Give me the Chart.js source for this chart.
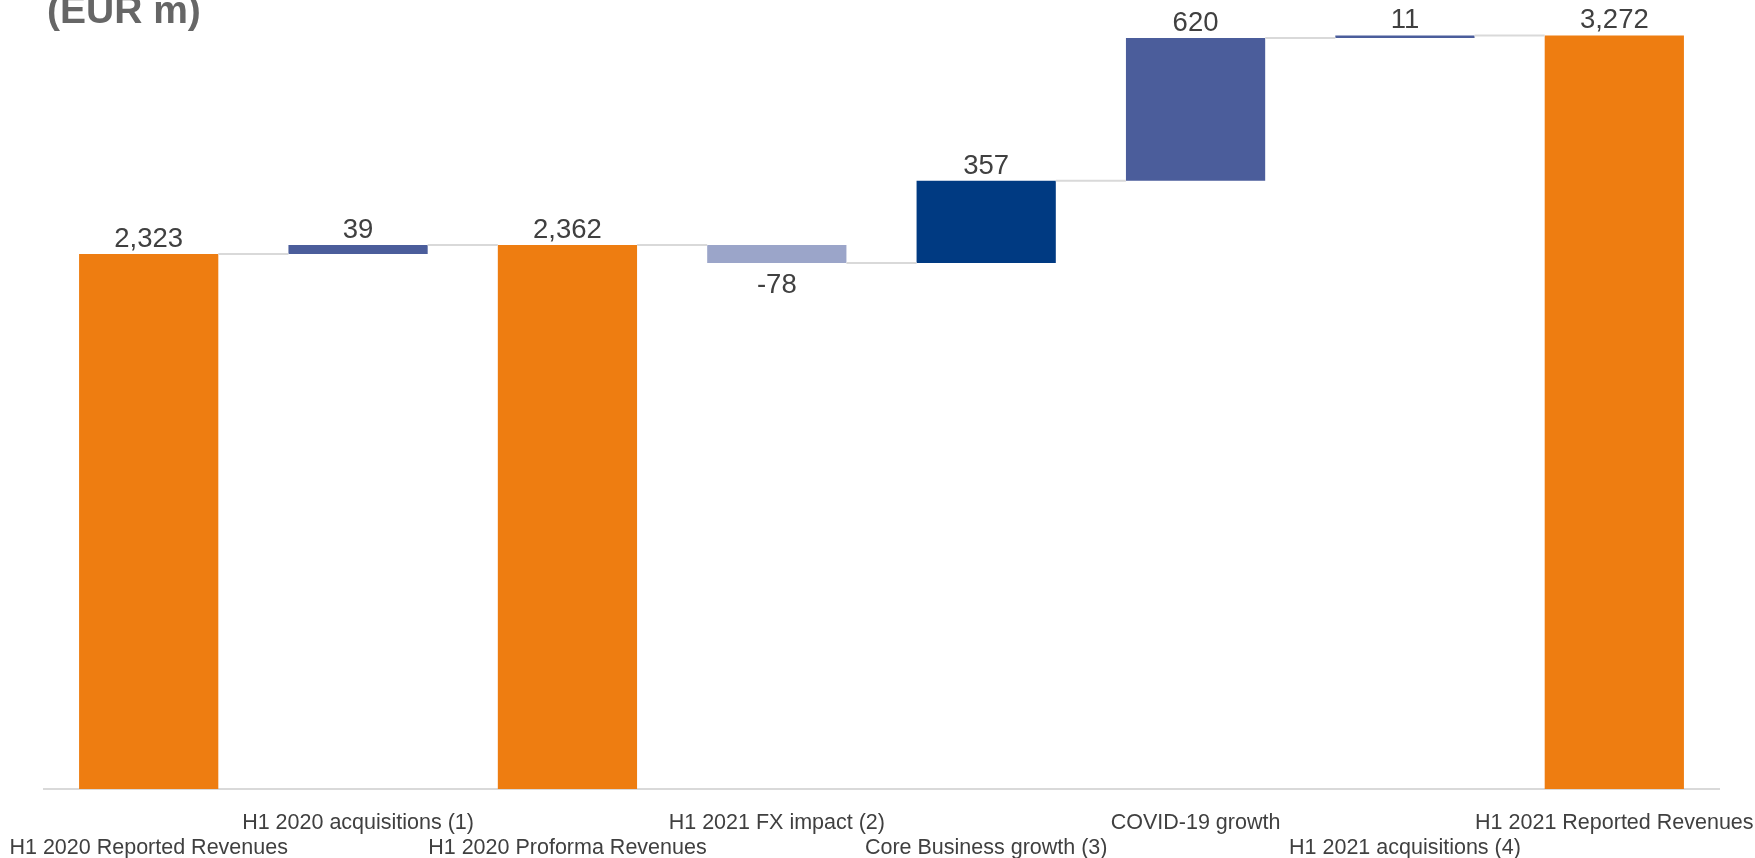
<!DOCTYPE html>
<html>
<head>
<meta charset="utf-8">
<script src="https://cdn.jsdelivr.net/npm/chart.js@4.4.1/dist/chart.umd.min.js"></script>
<style>
  html, body { margin: 0; padding: 0; background: #fff; }
  #wrap { width: 1755px; height: 858px; position: relative; }
</style>
</head>
<body>
<div id="wrap"><canvas id="myChart"></canvas></div>
<script>
const categories = [
    'H1 2020 Reported Revenues',
    'H1 2020 acquisitions (1)',
    'H1 2020 Proforma Revenues',
    'H1 2021 FX impact (2)',
    'Core Business growth (3)',
    'COVID-19 growth',
    'H1 2021 acquisitions (4)',
    'H1 2021 Reported Revenues'
];
const steps = [2323, 39, 2362, -78, 357, 620, 11, 3272];
const isTotal = [true, false, true, false, false, false, false, true];
const barColors = ['#ee7d11', '#4b5d9b', '#ee7d11', '#9ba5c9', '#003a82', '#4b5d9b', '#4b5d9b', '#ee7d11'];

// floating bars: totals start at zero, changes start where the previous bar ended
let running = 0;
const ranges = steps.map((v, i) => {
    if (isTotal[i]) {
        running = v;
        return [0, v];
    }
    const start = running;
    running += v;
    return [start, running];
});

const FONT = '"Liberation Sans", Arial, sans-serif';

const connectors = {
    id: 'connectors',
    afterDatasetsDraw(chart) {
        const ctx = chart.ctx;
        const bars = chart.getDatasetMeta(0).data;
        const y = chart.scales.y;
        ctx.save();
        ctx.strokeStyle = '#d9d9d9';
        ctx.lineWidth = 2;
        for (let i = 0; i < bars.length - 1; i++) {
            const py = y.getPixelForValue(ranges[i][1]);
            ctx.beginPath();
            ctx.moveTo(bars[i].x + bars[i].width / 2, py);
            ctx.lineTo(bars[i + 1].x - bars[i + 1].width / 2, py);
            ctx.stroke();
        }
        ctx.restore();
    }
};

const valueLabels = {
    id: 'valueLabels',
    afterDatasetsDraw(chart) {
        const ctx = chart.ctx;
        const bars = chart.getDatasetMeta(0).data;
        ctx.save();
        ctx.font = '27.5px ' + FONT;
        ctx.fillStyle = '#404040';
        ctx.textAlign = 'center';
        ctx.textBaseline = 'alphabetic';
        bars.forEach((bar, i) => {
            const v = steps[i];
            const text = v.toLocaleString('en-US');
            const top = Math.min(bar.y, bar.base);
            const bottom = Math.max(bar.y, bar.base);
            if (v < 0) {
                ctx.fillText(text, bar.x, bottom + 30);
            } else {
                ctx.fillText(text, bar.x, top - 7);
            }
        });
        ctx.restore();
    }
};

const unitTitle = {
    id: 'unitTitle',
    afterDraw(chart) {
        const ctx = chart.ctx;
        ctx.save();
        ctx.font = 'bold 39px ' + FONT;
        ctx.fillStyle = '#666666';
        ctx.textAlign = 'left';
        ctx.textBaseline = 'alphabetic';
        ctx.fillText('(EUR m)', 47, 23);
        ctx.restore();
    }
};

const ctx = document.getElementById('myChart').getContext('2d');
const chart = new Chart(ctx, {
    type: 'bar',
    data: {
        labels: categories,
        datasets: [{
            data: ranges,
            backgroundColor: barColors,
            borderWidth: 0,
            categoryPercentage: 1,
            barPercentage: 0.665
        }]
    },
    options: {
        responsive: true,
        maintainAspectRatio: false,
        animation: false,
        layout: {
            padding: { left: 44, right: 36, top: 6, bottom: 0 }
        },
        plugins: {
            legend: { display: false },
            tooltip: { enabled: false }
        },
        scales: {
            x: {
                grid: { display: false, drawTicks: false },
                border: { display: true, color: '#d9d9d9', width: 2 },
                ticks: {
                    autoSkip: false,
                    maxRotation: 0,
                    minRotation: 0,
                    padding: 22,
                    color: '#404040',
                    font: { family: FONT, size: 21.5, lineHeight: 25 / 21.5 },
                    // alternate labels between two rows so they don't collide
                    callback: function(value, index) {
                        const name = this.getLabelForValue(value);
                        return index % 2 === 0 ? ['', name] : [name, ''];
                    }
                },
                // fixed axis band; long outer labels may run into the side margins
                afterFit(scale) {
                    scale.height = 69;
                    scale.paddingLeft = 0;
                    scale.paddingRight = 0;
                }
            },
            y: {
                display: false,
                min: 0,
                max: 3400
            }
        }
    },
    plugins: [connectors, valueLabels, unitTitle]
});
</script>
</body>
</html>
